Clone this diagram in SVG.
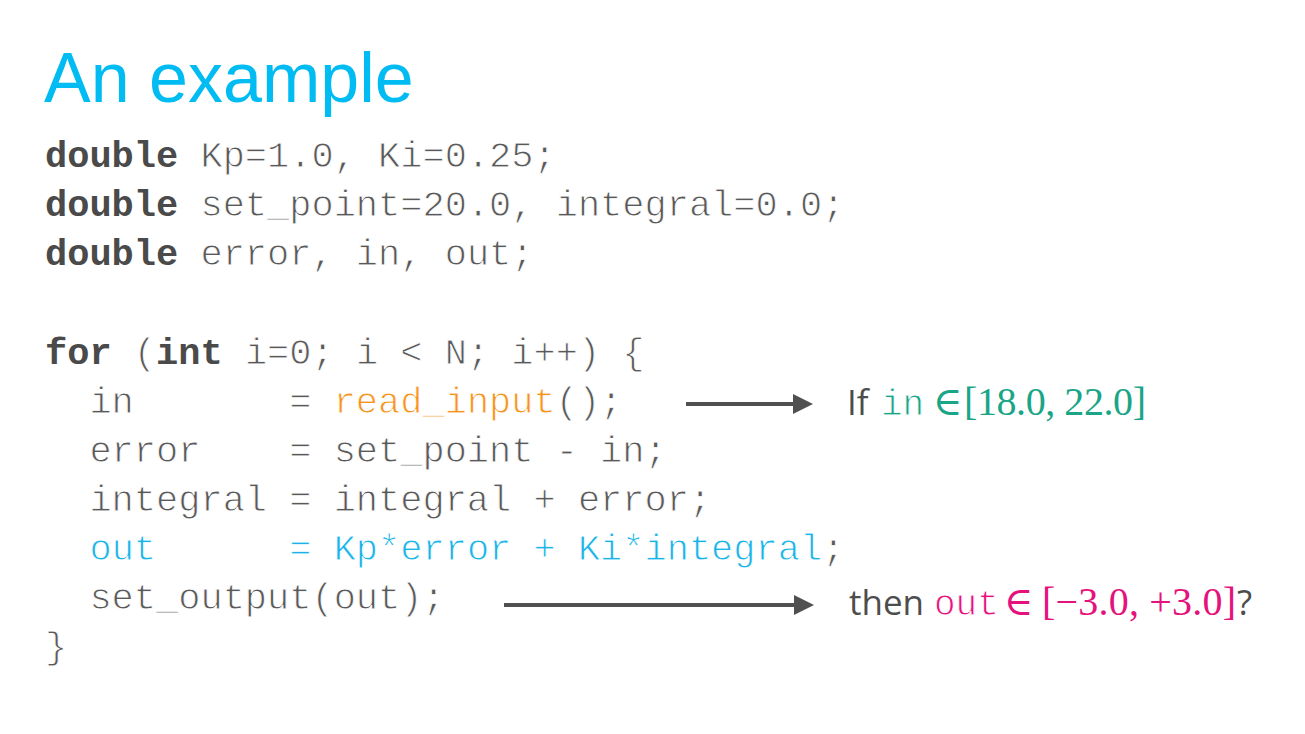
<svg xmlns="http://www.w3.org/2000/svg" width="1305" height="734" viewBox="0 0 1305 734">
<style>
.title{font-family:"Liberation Sans",Arial,sans-serif;font-size:70px;fill:#00BCF2}
.code{font-family:"Liberation Mono","Courier New",monospace;font-size:37px;fill:#595959;white-space:pre;stroke:#ffffff;stroke-width:0.9px}
.kw{font-weight:bold;fill:#4a4a4a;stroke:none}
.orange{fill:#F7941D}
.cyan{fill:#1AB4E8}
.sans{font-family:"Open Sans","Liberation Sans",sans-serif;font-size:35px;fill:#4d4d4d}
.mono{font-family:"Liberation Mono","Courier New",monospace;font-size:36px;stroke:#ffffff;stroke-width:0.9px}
.math{font-family:"Liberation Serif","DejaVu Serif",serif;font-size:40px}
.green{fill:#1AA587}
.mag{fill:#E5127D}
.arrow{stroke:#505050;stroke-width:4;fill:none}
</style>
<defs>
<marker id="ah" markerUnits="userSpaceOnUse" markerWidth="22" markerHeight="22" refX="0" refY="10" orient="auto" viewBox="0 0 22 22">
<path d="M0,0 L20,10 L0,20 Z" fill="#505050"/>
</marker>
</defs>
<rect width="1305" height="734" fill="#ffffff"/>
<g id="title"><text class="title" x="44" y="102">An example</text></g>
<g id="code">
<text class="code" x="45" y="167" xml:space="preserve"><tspan class="kw">double</tspan> Kp=1.0, Ki=0.25;</text>
<text class="code" x="45" y="216" xml:space="preserve"><tspan class="kw">double</tspan> set_point=20.0, integral=0.0;</text>
<text class="code" x="45" y="265" xml:space="preserve"><tspan class="kw">double</tspan> error, in, out;</text>
<text class="code" x="45" y="364" xml:space="preserve"><tspan class="kw">for</tspan> (<tspan class="kw">int</tspan> i=0; i &lt; N; i++) {</text>
<text class="code" x="45" y="413" xml:space="preserve">  in       = <tspan class="orange">read_input</tspan>();</text>
<text class="code" x="45" y="462" xml:space="preserve">  error    = set_point - in;</text>
<text class="code" x="45" y="511" xml:space="preserve">  integral = integral + error;</text>
<text class="code" x="45" y="560" xml:space="preserve">  <tspan class="cyan">out      = Kp*error + Ki*integral</tspan>;</text>
<text class="code" x="45" y="609" xml:space="preserve">  set_output(out);</text>
<text class="code" x="45" y="658" xml:space="preserve">}</text>
</g>
<g id="connectors">
<line class="arrow" x1="686" y1="404" x2="793" y2="404" marker-end="url(#ah)"/>
<line class="arrow" x1="504" y1="605" x2="794" y2="605" marker-end="url(#ah)"/>
</g>
<g id="cond-in">
<text class="sans" x="847" y="415">If</text>
<text class="mono green" x="881" y="415">in</text>
<text class="math green" x="933" y="415">∈</text>
<text class="math green" x="964" y="415" textLength="182" lengthAdjust="spacing">[18.0, 22.0]</text>
</g>
<g id="cond-out">
<text class="sans" x="849" y="615">then</text>
<text class="mono mag" x="934" y="615">out</text>
<text class="math mag" x="1004" y="615">∈</text>
<text class="math mag" x="1042" y="615" textLength="194" lengthAdjust="spacing">[−3.0, +3.0]</text>
<text class="sans" x="1237" y="615">?</text>
</g>
</svg>
